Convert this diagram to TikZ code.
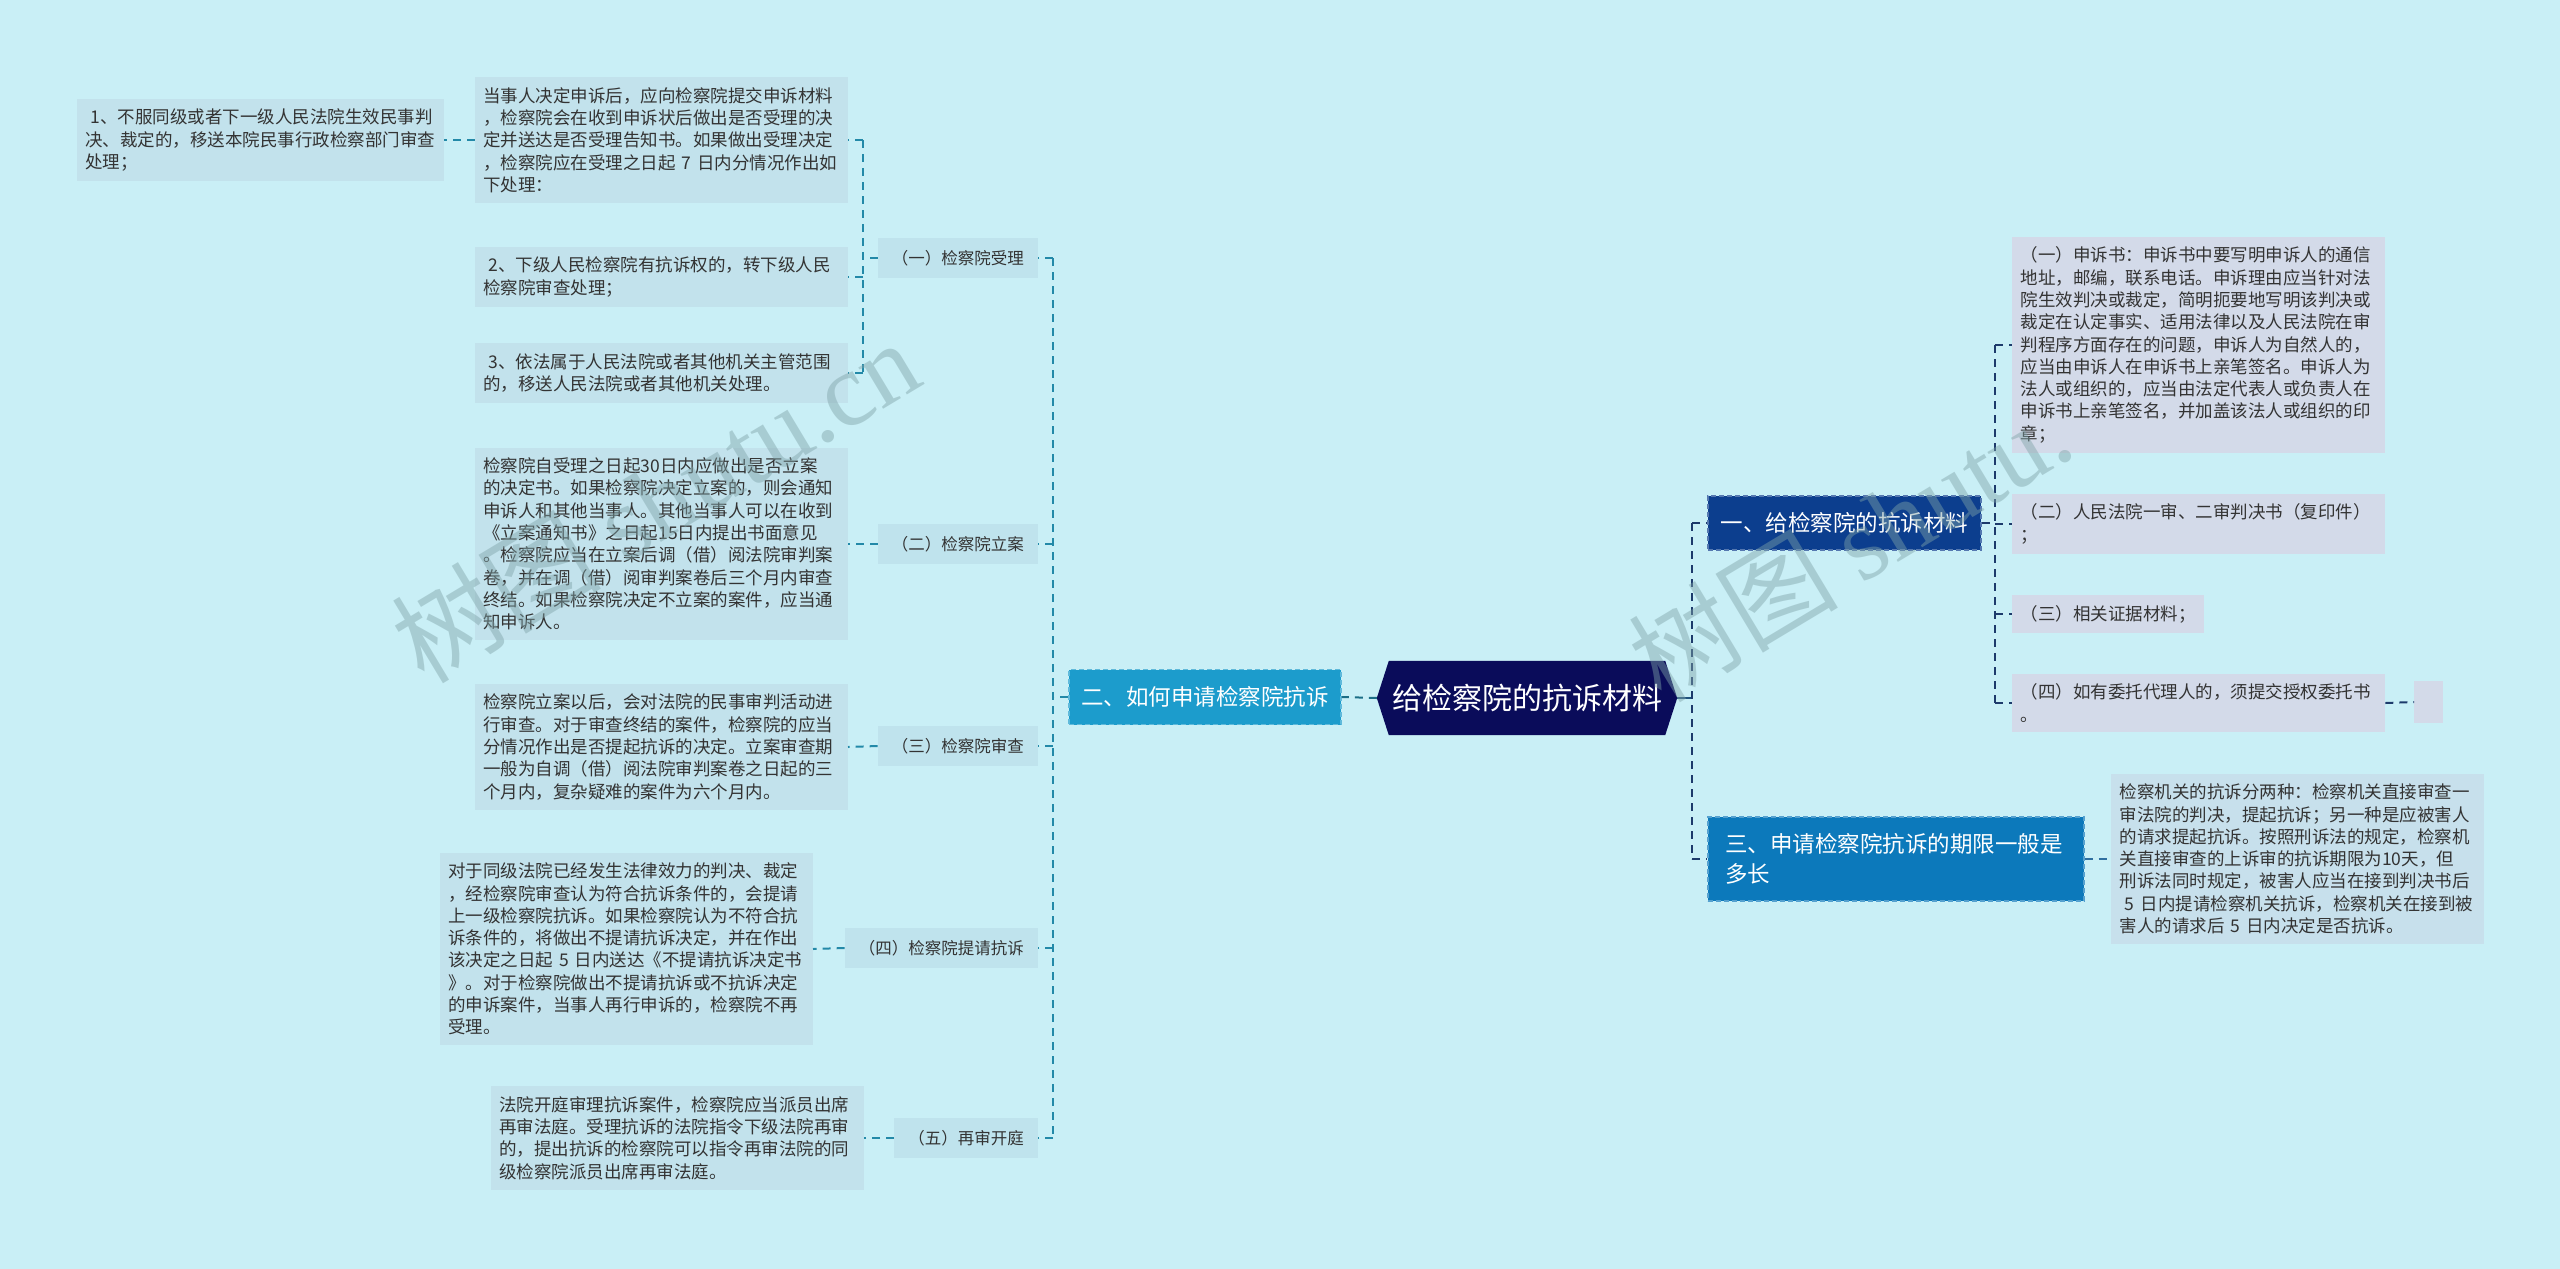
\documentclass[tikz,border=0pt]{standalone}
\usepackage{fontspec}
\setmainfont{Noto Sans CJK SC}
\newfontfamily\wmfont{Liberation Serif}
\usetikzlibrary{backgrounds}
\definecolor{bgc}{HTML}{C9EFF6}
\definecolor{leafLc}{HTML}{C2E2EC}
\definecolor{subc}{HTML}{BFE3ED}
\definecolor{leafRc}{HTML}{D3DAE9}
\definecolor{leafTc}{HTML}{C7E0EC}
\definecolor{navyc}{HTML}{0A0C5A}
\definecolor{onec}{HTML}{0C3E8E}
\definecolor{threec}{HTML}{0C79BB}
\definecolor{twoc}{HTML}{1C9CCC}
\definecolor{lcol}{HTML}{2389A8}
\definecolor{rcol}{HTML}{1D3A6B}
\definecolor{tcol}{HTML}{2F6FA0}
\definecolor{txt}{HTML}{333333}
\definecolor{wmc}{HTML}{7FA3A8}
\begin{document}
\begin{tikzpicture}[x=1pt,y=-1pt,
  leafbase/.style={text=txt, font=\fontsize{17.5}{22.3}\selectfont, inner xsep=8.5pt, inner ysep=10pt},
  leafL/.style={leafbase, fill=leafLc, align=left, text width=356pt},
  leafR/.style={leafL, fill=leafRc},
  leafT/.style={leafL, fill=leafTc},
  subnode/.style={fill=subc, text=txt, font=\fontsize{16.5}{20}\selectfont, inner xsep=14pt, inner ysep=0pt, minimum height=40pt, anchor=east},
  mainnode/.style={text=white, font=\fontsize{22.5}{30}\selectfont, inner ysep=0pt, line width=1.2pt, dash pattern=on 5pt off 3pt},
  ldash/.style={draw=lcol, line width=2pt, dash pattern=on 8pt off 6pt},
  rdash/.style={draw=rcol, line width=2pt, dash pattern=on 8pt off 6pt},
  tdash/.style={draw=tcol, line width=2pt, dash pattern=on 8pt off 6pt},
  wm/.style={text=wmc, opacity=0.45, font=\fontsize{105}{110}\selectfont, rotate=31}
]
\useasboundingbox (0,0) rectangle (2560,1269);

% central
\node[text=white, font=\fontsize{30}{34}\selectfont, minimum width=300pt, minimum height=74pt, inner sep=0pt] (c) at (1527,698) {给检察院的抗诉材料};

% level 1
\node[mainnode, fill=twoc, draw=twoc!70!white, minimum width=272pt, minimum height=55pt] (two) at (1205,697) {二、如何申请检察院抗诉};
\node[mainnode, fill=onec, draw=onec!70!white, minimum width=273pt, minimum height=54pt] (one) at (1844.5,523) {一、给检察院的抗诉材料};
\node[mainnode, fill=threec, draw=threec!70!white, align=left, text width=342pt, inner xsep=17pt, minimum height=84pt] (three) at (1896,859) {三、申请检察院抗诉的期限一般是\\多长};

% left sub nodes
\node[subnode] (s1) at (1038,258) {（一）检察院受理};
\node[subnode] (s2) at (1038,544) {（二）检察院立案};
\node[subnode] (s3) at (1038,746) {（三）检察院审查};
\node[subnode] (s4) at (1038,948) {（四）检察院提请抗诉};
\node[subnode] (s5) at (1038,1138) {（五）再审开庭};

% left leaves
\node[leafL, anchor=east] (a1) at (848,140) {当事人决定申诉后，应向检察院提交申诉材料\\，检察院会在收到申诉状后做出是否受理的决\\定并送达是否受理告知书。如果做出受理决定\\，检察院应在受理之日起~7~日内分情况作出如\\下处理：};
\node[leafL, anchor=east] (a2) at (848,277) {\hspace{0.3em}2、下级人民检察院有抗诉权的，转下级人民\\检察院审查处理；};
\node[leafL, anchor=east] (a3) at (848,373) {\hspace{0.3em}3、依法属于人民法院或者其他机关主管范围\\的，移送人民法院或者其他机关处理。};
\node[leafL, anchor=east, text width=350pt] (a0) at (444,140) {\hspace{0.3em}1、不服同级或者下一级人民法院生效民事判\\决、裁定的，移送本院民事行政检察部门审查\\处理；};
\node[leafL, anchor=east] (l2) at (848,544) {检察院自受理之日起30日内应做出是否立案\\的决定书。如果检察院决定立案的，则会通知\\申诉人和其他当事人。其他当事人可以在收到\\《立案通知书》之日起15日内提出书面意见\\。检察院应当在立案后调（借）阅法院审判案\\卷，并在调（借）阅审判案卷后三个月内审查\\终结。如果检察院决定不立案的案件，应当通\\知申诉人。};
\node[leafL, anchor=east] (l3) at (848,747) {检察院立案以后，会对法院的民事审判活动进\\行审查。对于审查终结的案件，检察院的应当\\分情况作出是否提起抗诉的决定。立案审查期\\一般为自调（借）阅法院审判案卷之日起的三\\个月内，复杂疑难的案件为六个月内。};
\node[leafL, anchor=east] (l4) at (813,949) {对于同级法院已经发生法律效力的判决、裁定\\，经检察院审查认为符合抗诉条件的，会提请\\上一级检察院抗诉。如果检察院认为不符合抗\\诉条件的，将做出不提请抗诉决定，并在作出\\该决定之日起~5~日内送达《不提请抗诉决定书\\》。对于检察院做出不提请抗诉或不抗诉决定\\的申诉案件，当事人再行申诉的，检察院不再\\受理。};
\node[leafL, anchor=east] (l5) at (864,1138) {法院开庭审理抗诉案件，检察院应当派员出席\\再审法庭。受理抗诉的法院指令下级法院再审\\的，提出抗诉的检察院可以指令再审法院的同\\级检察院派员出席再审法庭。};

% right leaves
\node[leafR, anchor=west] (r1) at (2012,345) {（一）申诉书：申诉书中要写明申诉人的通信\\地址，邮编，联系电话。申诉理由应当针对法\\院生效判决或裁定，简明扼要地写明该判决或\\裁定在认定事实、适用法律以及人民法院在审\\判程序方面存在的问题，申诉人为自然人的，\\应当由申诉人在申诉书上亲笔签名。申诉人为\\法人或组织的，应当由法定代表人或负责人在\\申诉书上亲笔签名，并加盖该法人或组织的印\\章；};
\node[leafR, anchor=west] (r2) at (2012,524) {（二）人民法院一审、二审判决书（复印件）\\；};
\node[leafbase, fill=leafRc, anchor=west] (r3) at (2012,614) {（三）相关证据材料；};
\node[leafR, anchor=west] (r4) at (2012,703) {（四）如有委托代理人的，须提交授权委托书\\。};
\node[fill=leafRc, anchor=west, minimum width=29pt, minimum height=42pt, inner sep=0pt] (r5) at (2414,702) {};
\node[leafT, anchor=west] (t1) at (2111,859) {检察机关的抗诉分两种：检察机关直接审查一\\审法院的判决，提起抗诉；另一种是应被害人\\的请求提起抗诉。按照刑诉法的规定，检察机\\关直接审查的上诉审的抗诉期限为10天，但\\刑诉法同时规定，被害人应当在接到判决书后\\\hspace{0.3em}5~日内提请检察机关抗诉，检察机关在接到被\\害人的请求后~5~日内决定是否抗诉。};

% trunk coordinates
\coordinate (lt) at (1053,697);
\coordinate (lt1) at (863,258);
\coordinate (rt) at (1692,698);
\coordinate (rt1) at (1995,523);

% connectors: centre
\draw[ldash, draw=lcol!80!black] (c.west) -- (two.east);
\draw[draw=rcol!70!lcol, line width=2pt] (c.east) -- (rt);

% left main tree
\draw[ldash] (two.west) -- (lt);
\draw[ldash] (lt |- s1.east) -- (lt |- s5.east);
\foreach \n in {s1,s2,s3,s4,s5} { \draw[ldash] (lt |- \n.east) -- (\n.east); }

% (一) sub tree
\draw[ldash] (s1.west) -- (lt1);
\draw[ldash] (lt1 |- a1.east) -- (lt1 |- a3.east);
\foreach \n in {a1,a2,a3} { \draw[ldash] (lt1 |- \n.east) -- (\n.east); }
\draw[ldash] (a1.west) -- (a0.east);
\draw[ldash] (s2.west) -- (l2.east);
\draw[ldash] (s3.west) -- (l3.east);
\draw[ldash] (s4.west) -- (l4.east);
\draw[ldash] (s5.west) -- (l5.east);

% right main tree
\draw[rdash] (rt |- one.west) -- (rt |- three.west);
\draw[rdash] (rt |- one.west) -- (one.west);
\draw[rdash] (rt |- three.west) -- (three.west);
\draw[rdash] (one.east) -- (rt1);
\draw[rdash] (rt1 |- r1.west) -- (rt1 |- r4.west);
\foreach \n in {r1,r2,r3,r4} { \draw[rdash] (rt1 |- \n.west) -- (\n.west); }
\draw[rdash] (r4.east) -- (r5.west);
\draw[tdash] (three.east) -- (t1.west);

% background and central hexagon
\begin{scope}[on background layer]
\fill[bgc] (0,0) rectangle (2560,1269);
\fill[navyc] (c.west) -- ([xshift=12pt]c.north west) -- ([xshift=-12pt]c.north east) -- (c.east) -- ([xshift=-12pt]c.south east) -- ([xshift=12pt]c.south west) -- cycle;
\end{scope}

% watermarks
\node[wm] (wm1) at (655,500) {树图 {\wmfont shutu.cn}};
\node[wm] (wm2) at (1850,545) {树图 {\wmfont shutu.}};
\end{tikzpicture}
\end{document}
